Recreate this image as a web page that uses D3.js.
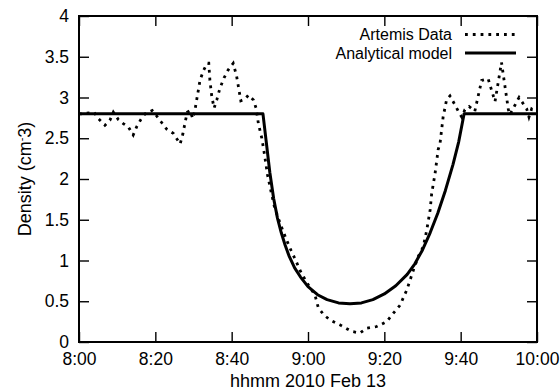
<!DOCTYPE html>
<html>
<head>
<meta charset="utf-8">
<script src="https://cdn.jsdelivr.net/npm/d3@7"></script>
<style>
  body { margin: 0; background: #fff; }
  svg { display: block; }
  text { font-family: "Liberation Sans", Arial, Helvetica, sans-serif; fill: #000; }
</style>
</head>
<body>
<div id="chart"></div>
<script>
// Minutes after 8:00 and density (cm^-3)
const artemisMinutes = [0, 1.0, 3.9, 5.1, 6.8, 8.1, 9.0, 10.3, 11.6, 12.9, 14.2, 15.1, 16.2, 17.3, 19.2,
  20.4, 21.7, 23.0, 24.7, 26.5, 27.2, 28.0, 28.4, 29.1, 29.8, 30.4, 31.7, 32.6, 33.6, 34.0, 34.3,
  34.8, 35.4, 36.1, 36.9, 38.0, 39.1, 40.4, 41.3, 42.0, 42.4, 43.5, 44.4, 45.7, 46.4, 47.0, 47.9,
  48.6, 49.4, 50.3, 51.2, 52.2, 53.3, 54.4, 55.6, 56.8, 57.9, 59.3, 60.6, 61.8, 62.7, 64.2, 65.8,
  68.4, 71.4, 73.6, 75.4, 78.0, 80.6, 82.3, 84.1, 85.9, 87.6, 88.9, 90.2, 91.1, 92.0, 92.4, 93.3,
  94.1, 94.6, 95.4, 96.3, 97.2, 98.5, 99.4, 100.3, 101.1, 102.2, 103.7, 105.5, 107.2, 109.0, 110.7,
  112.5, 112.9, 115.3, 117.3, 117.9, 118.6, 119.5, 120];
const artemisDensity = [2.80, 2.80, 2.82, 2.74, 2.66, 2.72, 2.82, 2.73, 2.68, 2.64, 2.54, 2.64, 2.73, 2.80, 2.84,
  2.77, 2.69, 2.61, 2.56, 2.43, 2.55, 2.74, 2.82, 2.84, 2.74, 2.85, 3.21, 3.33, 3.42, 3.42, 3.21,
  3.01, 2.87, 2.97, 3.11, 3.24, 3.34, 3.42, 3.26, 3.07, 2.96, 2.98, 3.03, 2.97, 2.87, 2.68, 2.50,
  2.30, 2.05, 1.85, 1.66, 1.52, 1.38, 1.25, 1.12, 1.00, 0.88, 0.76, 0.66, 0.58, 0.42, 0.33, 0.27,
  0.21, 0.13, 0.11, 0.17, 0.19, 0.25, 0.35, 0.45, 0.64, 0.88, 1.05, 1.17, 1.37, 1.62, 1.82, 2.07,
  2.36, 2.44, 2.76, 2.97, 3.02, 2.91, 2.83, 2.76, 2.85, 2.89, 2.83, 3.21, 3.23, 2.95, 3.43,
  2.85, 2.79, 3.00, 2.86, 2.76, 2.86, 2.83, 2.82];

const modelMinutes = [0, 48.2, 49.0, 50.0, 51.0, 52.0, 53.0, 54.0, 55.0, 56.5, 58.0, 60.0, 62.5, 65.0,
  68.0, 71.0, 74.0, 77.0, 80.0, 83.0, 86.0, 88.0, 90.0, 92.0, 94.0, 96.0, 98.0, 99.5, 100.9, 120];
const modelDensity = [2.80, 2.80, 2.48, 2.08, 1.76, 1.52, 1.34, 1.19, 1.06, 0.91, 0.80, 0.68, 0.58, 0.52,
  0.48, 0.47, 0.48, 0.52, 0.59, 0.69, 0.83, 0.96, 1.13, 1.34, 1.58, 1.86, 2.18, 2.46, 2.80, 2.80];

const xTicks = [0, 20, 40, 60, 80, 100, 120];
const xTickLabels = ["8:00", "8:20", "8:40", "9:00", "9:20", "9:40", "10:00"];
const yTicks = [0, 0.5, 1, 1.5, 2, 2.5, 3, 3.5, 4];
const yTickLabels = ["0", "0.5", "1", "1.5", "2", "2.5", "3", "3.5", "4"];

const seriesNames = ["Artemis Data", "Analytical model"];

const W = 560, H = 392;
const margin = { top: 16, right: 23, bottom: 50, left: 79 };
const innerW = W - margin.left - margin.right;
const innerH = H - margin.top - margin.bottom;

const svg = d3.select("#chart").append("svg")
  .attr("width", W)
  .attr("height", H);

const g = svg.append("g")
  .attr("transform", `translate(${margin.left},${margin.top})`);

const x = d3.scaleLinear().domain([0, 120]).range([0, innerW]);
const y = d3.scaleLinear().domain([0, 4]).range([innerH, 0]);

// axes with inward ticks, mirrored on top/right
const tickLen = 10;
function styleAxis(sel) {
  sel.select(".domain").remove();
  sel.selectAll(".tick line").attr("stroke", "#000").attr("stroke-width", 1.4);
  sel.selectAll(".tick text")
    .style("font-size", "17.5px")
    .style("font-family", "'Liberation Sans', Arial, sans-serif")
    .attr("fill", "#000");
}

g.append("g")
  .attr("transform", `translate(0,${innerH})`)
  .call(d3.axisBottom(x).tickValues(xTicks).tickSize(-tickLen).tickPadding(11)
    .tickFormat((d, i) => xTickLabels[i]))
  .call(styleAxis);

g.append("g")
  .call(d3.axisTop(x).tickValues(xTicks).tickSize(-tickLen).tickFormat(""))
  .call(styleAxis);

g.append("g")
  .call(d3.axisLeft(y).tickValues(yTicks).tickSize(-tickLen).tickPadding(10)
    .tickFormat((d, i) => yTickLabels[i]))
  .call(styleAxis);

g.append("g")
  .attr("transform", `translate(${innerW},0)`)
  .call(d3.axisRight(y).tickValues(yTicks).tickSize(-tickLen).tickFormat(""))
  .call(styleAxis);

// plot border
g.append("rect")
  .attr("width", innerW)
  .attr("height", innerH)
  .attr("fill", "none")
  .attr("stroke", "#000")
  .attr("stroke-width", 2);

// lines
const line = d3.line()
  .x(d => x(d[0]))
  .y(d => y(d[1]));

const artemis = artemisMinutes.map((m, i) => [m, artemisDensity[i]]);
const model = modelMinutes.map((m, i) => [m, modelDensity[i]]);

g.append("path")
  .datum(artemis)
  .attr("d", line)
  .attr("fill", "none")
  .attr("stroke", "#000")
  .attr("stroke-width", 2.8)
  .attr("stroke-dasharray", "2.8,5")
  .attr("stroke-linejoin", "miter");

g.append("path")
  .datum(model)
  .attr("d", line)
  .attr("fill", "none")
  .attr("stroke", "#000")
  .attr("stroke-width", 3)
  .attr("stroke-linejoin", "round");

// legend
const legend = svg.append("g");
const legendRows = [
  { name: seriesNames[0], dash: "2.8,5", yy: 34.5 },
  { name: seriesNames[1], dash: null, yy: 53 }
];
legendRows.forEach(r => {
  legend.append("text")
    .attr("x", 452)
    .attr("y", r.yy)
    .attr("dy", "0.35em")
    .attr("text-anchor", "end")
    .style("font-size", "16px")
    .text(r.name);
  legend.append("line")
    .attr("x1", 465).attr("x2", 516)
    .attr("y1", r.yy).attr("y2", r.yy)
    .attr("stroke", "#000")
    .attr("stroke-width", r.dash ? 2.8 : 3)
    .attr("stroke-dasharray", r.dash);
});

// axis titles
svg.append("text")
  .attr("x", margin.left + innerW / 2)
  .attr("y", 387)
  .attr("text-anchor", "middle")
  .style("font-size", "18px")
  .text("hhmm 2010 Feb 13");

const yTitle = svg.append("text")
  .attr("transform", `translate(31,${margin.top + innerH / 2}) rotate(-90)`)
  .attr("text-anchor", "middle")
  .style("font-size", "18px");
yTitle.append("tspan").text("Density (cm");
yTitle.append("tspan").attr("baseline-shift", "super").style("font-size", "11px").text("-");
yTitle.append("tspan").text("3)");
</script>
</body>
</html>
